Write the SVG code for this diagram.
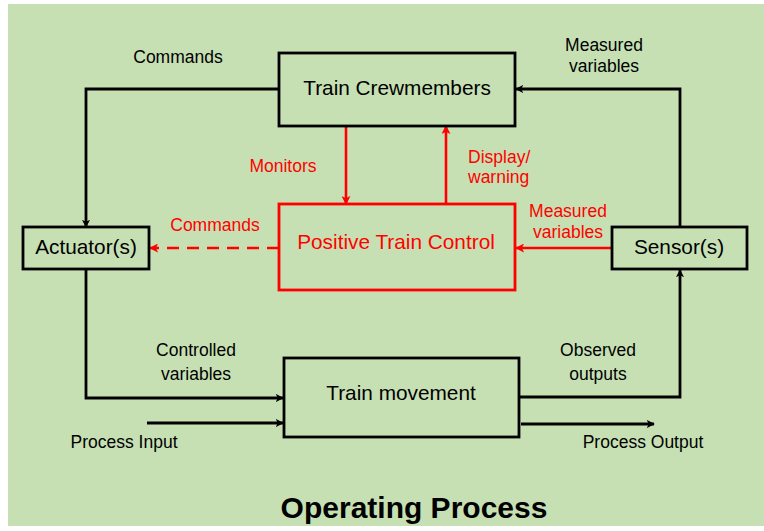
<svg xmlns="http://www.w3.org/2000/svg" width="764" height="531" viewBox="0 0 764 531">
<defs>
<style>
.box{fill:none;stroke:#000;stroke-width:2.8}
.rbox{fill:none;stroke:#f00;stroke-width:2.8}
.ln{fill:none;stroke:#000;stroke-width:2.8}
.rln{fill:none;stroke:#f00;stroke-width:2.6}
.nl{font-family:"Liberation Sans",Arial,sans-serif;font-size:20.8px;fill:#000;text-anchor:middle}
.lb{font-family:"Liberation Sans",Arial,sans-serif;font-size:17.5px;fill:#000;text-anchor:middle}
.red{fill:#f00}
</style>
<marker id="ah" viewBox="0 0 10 10" refX="9" refY="5" markerWidth="8" markerHeight="8" markerUnits="userSpaceOnUse" orient="auto"><path d="M0,0 L10,5 L0,10 L2.5,5 z" fill="#000"/></marker>
<marker id="rah" viewBox="0 0 10 10" refX="9" refY="5" markerWidth="9" markerHeight="9" markerUnits="userSpaceOnUse" orient="auto"><path d="M0,0 L10,5 L0,10 L2.5,5 z" fill="#f00"/></marker>
</defs>
<rect x="8" y="4" width="756" height="522" fill="#c6e0b4"/>
<g id="connectors">
<path class="ln" d="M279,89 H86 V227" marker-end="url(#ah)"/>
<path class="ln" d="M680,227 V89 H516" marker-end="url(#ah)"/>
<path class="rln" d="M346,126 V204" marker-end="url(#rah)"/>
<path class="rln" d="M446,204 V126" marker-end="url(#rah)"/>
<path class="rln" d="M279,248 H150" stroke-dasharray="12,8" marker-end="url(#rah)"/>
<path class="rln" d="M612,248 H516" marker-end="url(#rah)"/>
<path class="ln" d="M86,269 V398 H283" marker-end="url(#ah)"/>
<path class="ln" d="M147,423 H283" marker-end="url(#ah)"/>
<path class="ln" d="M519,397 H680 V270" marker-end="url(#ah)"/>
<path class="ln" d="M521,424 H654" marker-end="url(#ah)"/>
</g>
<g id="train-crewmembers">
<rect class="box" x="279" y="53" width="236" height="73"/>
<text class="nl" x="397" y="95">Train Crewmembers</text>
</g>
<g id="positive-train-control">
<rect class="rbox" x="279" y="204" width="236" height="86"/>
<text class="nl red" x="396" y="249">Positive Train Control</text>
</g>
<g id="actuators">
<rect class="box" x="23" y="227" width="126" height="42"/>
<text class="nl" x="86" y="254">Actuator(s)</text>
</g>
<g id="sensors">
<rect class="box" x="612" y="227" width="135" height="42"/>
<text class="nl" x="679" y="254">Sensor(s)</text>
</g>
<g id="train-movement">
<rect class="box" x="284" y="358" width="235" height="79"/>
<text class="nl" x="401" y="400">Train movement</text>
</g>
<g id="labels">
<text class="lb" x="178" y="63">Commands</text>
<text class="lb" x="604" y="51">Measured</text>
<text class="lb" x="604" y="72">variables</text>
<text class="lb red" x="283" y="172">Monitors</text>
<text class="lb red" x="468" y="163" style="text-anchor:start">Display/</text>
<text class="lb red" x="468" y="183" style="text-anchor:start">warning</text>
<text class="lb red" x="215" y="231">Commands</text>
<text class="lb red" x="568" y="217">Measured</text>
<text class="lb red" x="568" y="238">variables</text>
<text class="lb" x="196" y="356">Controlled</text>
<text class="lb" x="196" y="380">variables</text>
<text class="lb" x="598" y="356">Observed</text>
<text class="lb" x="598" y="380">outputs</text>
<text class="lb" x="124" y="448">Process Input</text>
<text class="lb" x="643" y="448">Process Output</text>
<text x="414" y="518" style="font-family:'Liberation Sans',Arial,sans-serif;font-size:30px;font-weight:bold;text-anchor:middle">Operating Process</text>
</g>
</svg>
